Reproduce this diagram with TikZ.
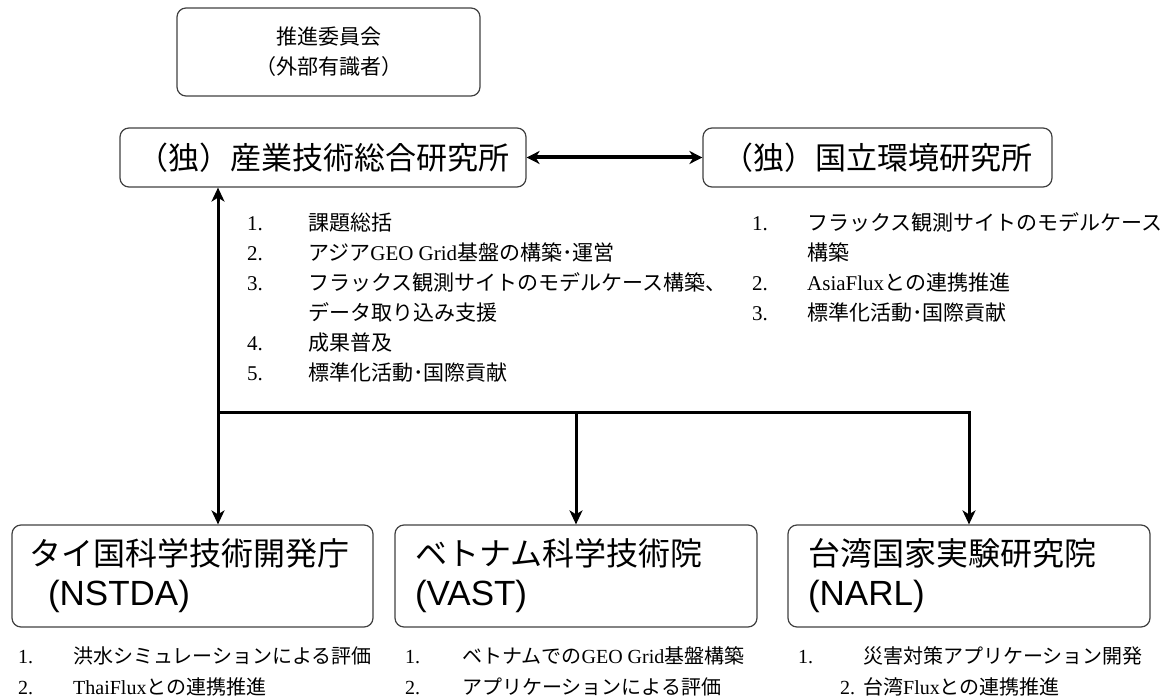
\documentclass[tikz,border=0pt]{standalone}
\usepackage{fontspec}
\setmainfont{Liberation Serif}
\newfontfamily\jp{Noto Sans CJK JP}
\newfontfamily\arl{Liberation Sans}
\usetikzlibrary{arrows.meta}
\tikzset{
  box/.style={draw=black!75, line width=1.2pt, rounded corners=9pt, inner sep=0pt},
  conn/.style={line width=3pt, black},
  tipx/.tip={Stealth[length=14pt,width=13pt,inset=4pt]},
  listtxt/.style={inner sep=0pt, anchor=base west, font=\fontsize{21}{30}\selectfont},
  bottxt/.style={inner sep=0pt, anchor=base west, font=\fontsize{20}{31}\selectfont}
}
\begin{document}
\begin{tikzpicture}[x=1pt,y=-1pt]
\useasboundingbox (0,0) rectangle (1168,700);
% boxes
\node[box, minimum width=303pt, minimum height=88pt, align=center,
      font=\jp\fontsize{21}{30}\selectfont] (cmt) at (328.5,52) {推進委員会\\（外部有識者）};
\node[box, minimum width=406pt, minimum height=59pt,
      font=\jp\fontsize{31}{36}\selectfont] (aist) at (323,157.5) {（独）産業技術総合研究所};
\node[box, minimum width=349pt, minimum height=59pt,
      font=\jp\fontsize{31}{36}\selectfont] (nies) at (877.5,157.5) {（独）国立環境研究所};
\node[box, minimum width=361pt, minimum height=102pt, text width=325pt, align=left,
      font=\fontsize{32}{40}\selectfont] (nstda) at (192.5,576)
      {{\jp タイ国科学技術開発庁}\\\hspace*{18pt}{\arl\fontsize{35}{40}\selectfont(NSTDA)}};
\node[box, minimum width=362pt, minimum height=102pt, text width=322pt, align=left,
      font=\fontsize{32}{40}\selectfont] (vast) at (576,576)
      {{\jp ベトナム科学技術院}\\{\arl\fontsize{35}{40}\selectfont(VAST)}};
\node[box, minimum width=362pt, minimum height=102pt, text width=322pt, align=left,
      font=\fontsize{32}{40}\selectfont] (narl) at (969,576)
      {{\jp 台湾国家実験研究院}\\{\arl\fontsize{35}{40}\selectfont(NARL)}};
% connectors
\coordinate (j) at (218,413);
\draw[conn, tipx-tipx] (aist.south -| j) -- (nstda.north -| j);
\draw[conn, -tipx] (j) -| (narl.north);
\draw[conn, -tipx] (j -| vast.north) -- (vast.north);
\draw[line width=4pt, {Stealth[length=13pt,width=13pt,inset=4pt]}-{Stealth[length=13pt,width=13pt,inset=4pt]}] (aist.east) -- (nies.west);
% lists
\node[listtxt] (laist) at (247,231) {\begin{tabular}[t]{@{}p{61pt}@{}l@{}}
1. & {\jp 課題総括}\\
2. & {\jp アジア}GEO Grid{\jp 基盤の構築･運営}\\
3. & {\jp フラックス観測サイトのモデルケース構築、}\\
   & {\jp データ取り込み支援}\\
4. & {\jp 成果普及}\\
5. & {\jp 標準化活動･国際貢献}
\end{tabular}};
\node[listtxt] (lnies) at (752,231) {\begin{tabular}[t]{@{}p{55pt}@{}l@{}}
1. & {\jp フラックス観測サイトのモデルケース}\\
   & {\jp 構築}\\
2. & AsiaFlux{\jp との連携推進}\\
3. & {\jp 標準化活動･国際貢献}
\end{tabular}};
\node[bottxt] (lnstda) at (18,663) {\begin{tabular}[t]{@{}p{55pt}@{}l@{}}
1. & {\jp 洪水シミュレーションによる評価}\\
2. & ThaiFlux{\jp との連携推進}
\end{tabular}};
\node[bottxt] (lvast) at (405,663) {\begin{tabular}[t]{@{}p{57pt}@{}l@{}}
1. & {\jp ベトナムでの}GEO Grid{\jp 基盤構築}\\
2. & {\jp アプリケーションによる評価}
\end{tabular}};
\node[bottxt] (lnarl) at (798,663) {\begin{tabular}[t]{@{}p{65pt}@{}l@{}}
1. & {\jp 災害対策アプリケーション開発}\\
\hspace*{42pt}2. & {\jp 台湾}Flux{\jp との連携推進}
\end{tabular}};
\end{tikzpicture}
\end{document}
